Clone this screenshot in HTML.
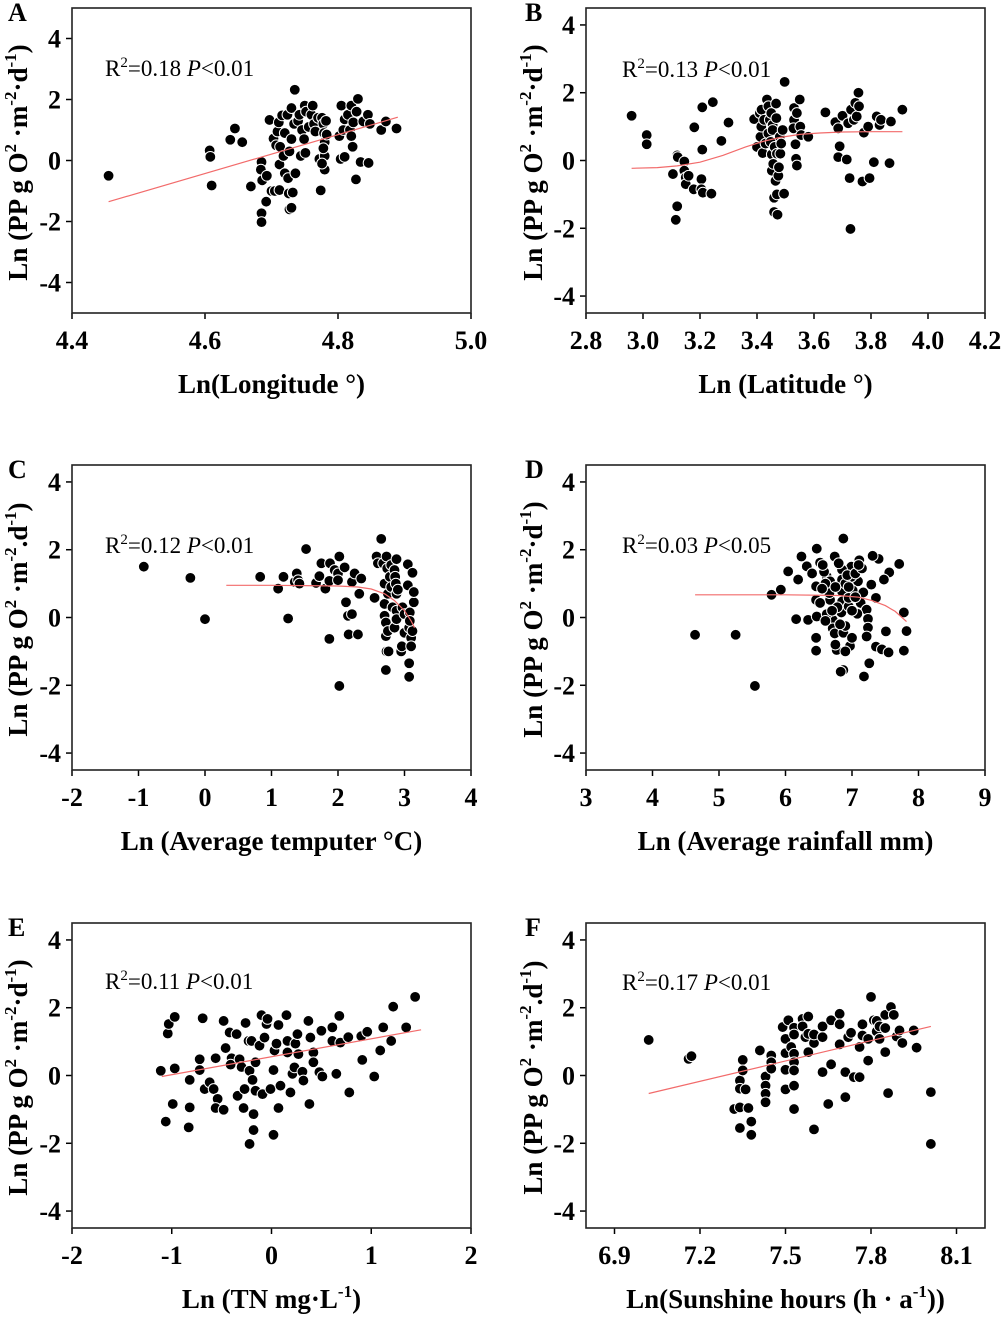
<!DOCTYPE html>
<html><head><meta charset="utf-8"><style>
body{margin:0;background:#fff}
svg{display:block;font-family:"Liberation Serif",serif}
.tk{font-weight:bold;font-size:26px}
.ttl{font-weight:bold;font-size:27px}
.ytl{font-weight:bold;font-size:27px}
.ann{font-size:23px}
</style></head><body>
<svg id="fig" width="1003" height="1318" viewBox="0 0 1003 1318" xmlns="http://www.w3.org/2000/svg"></svg>
<script>
const aX=[4.455,4.607,4.608,4.61,4.638,4.645,4.656,4.669,4.685,4.684,4.686,4.685,4.685,4.693,4.692,4.697,4.70,4.703,4.705,4.707,4.709,4.711,4.712,4.713,4.712,4.716,4.718,4.72,4.72,4.724,4.725,4.726,4.727,4.727,4.73,4.73,4.73,4.732,4.734,4.735,4.736,4.74,4.742,4.744,4.746,4.749,4.75,4.751,4.752,4.756,4.76,4.762,4.764,4.766,4.77,4.772,4.774,4.776,4.778,4.779,4.78,4.78,4.78,4.782,4.783,4.778,4.776,4.802,4.804,4.805,4.808,4.81,4.81,4.815,4.818,4.82,4.82,4.822,4.823,4.827,4.828,4.83,4.834,4.838,4.845,4.846,4.848,4.865,4.872,4.888];
const aY=[-0.5,0.33,0.12,-0.82,0.68,1.05,0.6,-0.85,-0.05,-0.3,-0.65,-1.73,-2.02,-0.5,-1.35,1.33,-1.0,0.72,-1.0,0.5,0.95,1.25,-0.13,0.45,-0.97,1.48,0.15,-0.42,0.9,1.5,-0.58,-1.08,0.3,-1.6,1.72,0.7,-1.55,-1.05,1.2,2.32,-0.42,1.3,1.5,0.15,1.0,0.7,1.8,0.25,1.6,1.1,1.5,1.8,1.2,0.95,1.4,0.05,-0.98,1.4,1.2,0.9,0.6,-0.3,0.15,1.3,0.85,0.4,-0.1,0.8,0.05,1.8,1.0,1.35,0.12,1.5,1.0,0.8,1.8,0.45,1.25,-0.62,1.6,2.02,-0.05,1.28,1.5,-0.08,1.2,1.0,1.28,1.05];
const aFitX=[4.455,4.89];
const aFitY=[-1.35,1.42];
const bX=[2.96,3.013,3.013,3.105,3.12,3.122,3.12,3.115,3.145,3.145,3.15,3.15,3.16,3.178,3.18,3.205,3.205,3.21,3.208,3.208,3.24,3.245,3.275,3.30,3.39,3.40,3.41,3.412,3.415,3.416,3.42,3.425,3.43,3.435,3.44,3.44,3.445,3.448,3.45,3.452,3.452,3.455,3.455,3.457,3.46,3.46,3.462,3.465,3.467,3.468,3.47,3.47,3.472,3.475,3.477,3.48,3.482,3.485,3.49,3.495,3.497,3.53,3.53,3.528,3.535,3.537,3.54,3.54,3.55,3.552,3.555,3.58,3.64,3.675,3.685,3.685,3.69,3.70,3.715,3.72,3.725,3.728,3.73,3.74,3.745,3.75,3.756,3.758,3.77,3.775,3.79,3.795,3.81,3.82,3.83,3.835,3.865,3.87,3.91];
const bY=[1.32,0.75,0.48,-0.4,0.15,0.1,-1.35,-1.75,-0.03,-0.3,-0.5,-0.7,-0.45,-0.85,0.98,-0.55,-0.85,-0.95,0.32,1.57,-0.98,1.72,0.58,1.12,1.22,0.4,1.4,0.7,1.0,1.5,0.22,1.2,0.5,1.8,1.6,0.8,1.2,0.55,1.4,0.18,-0.3,1.05,0.9,-0.1,-1.1,-1.52,0.4,-0.6,1.68,1.25,0.2,-1.0,-1.6,-0.45,-0.2,0.7,0.2,0.5,0.9,-0.98,2.32,1.55,1.2,0.95,0.48,0.05,-0.15,1.4,1.8,1.0,0.75,0.7,1.42,1.13,0.95,0.1,0.42,1.32,0.03,1.1,-0.52,-2.02,1.5,1.2,1.7,1.3,2.0,1.6,-0.62,0.82,1.0,-0.52,-0.05,1.3,1.05,1.2,-0.08,1.15,1.5];
const bFitX=[2.96,3.05,3.12,3.2,3.28,3.36,3.42,3.48,3.55,3.62,3.7,3.8,3.91];
const bFitY=[-0.23,-0.21,-0.16,-0.05,0.15,0.4,0.56,0.68,0.77,0.81,0.84,0.85,0.85];
const cX=[-0.92,-0.22,0,0.83,1.1,1.18,1.25,1.35,1.38,1.4,1.42,1.52,1.67,1.72,1.75,1.81,1.87,1.88,1.87,1.95,2.0,2.0,2.02,2.02,2.1,2.12,2.15,2.16,2.21,2.21,2.25,2.3,2.32,2.35,2.55,2.58,2.6,2.65,2.68,2.7,2.7,2.7,2.72,2.72,2.73,2.72,2.73,2.74,2.75,2.75,2.76,2.78,2.8,2.8,2.82,2.85,2.85,2.86,2.87,2.88,2.88,2.88,2.88,2.9,2.95,2.96,2.97,3.0,3.0,3.05,3.05,3.07,3.07,3.07,3.08,3.1,3.1,3.12,3.12,3.14,3.14,3.08];
const cY=[1.5,1.17,-0.05,1.2,0.85,1.2,-0.03,1.05,1.3,1.1,1.0,2.02,1.02,1.22,1.6,0.85,-0.63,1.6,1.08,1.4,1.3,1.1,1.8,-2.02,1.48,0.45,0.05,-0.5,0.1,1.05,1.3,-0.5,0.7,1.15,0.58,1.8,1.6,2.32,1.6,1.0,0.4,0.05,-0.15,-0.55,-1.0,-1.55,1.8,1.45,0.7,-0.4,-1.0,1.2,1.55,0.9,0.3,1.4,-0.3,1.2,1.0,1.72,0.7,0.2,-0.05,0.82,-1.0,-0.85,0.3,-0.45,0.1,1.57,0.95,-0.3,-1.35,-1.75,0.15,-0.6,-0.85,1.32,-0.4,0.45,0.75,-0.1];
const cFitX=[0.32,1,1.5,2,2.3,2.5,2.7,2.85,3.0,3.1,3.15];
const cFitY=[0.95,0.95,0.94,0.93,0.9,0.84,0.7,0.5,0.2,-0.1,-0.3];
const dX=[4.64,5.25,5.54,5.79,5.93,6.04,6.16,6.24,6.19,6.32,6.34,6.47,6.46,6.46,6.47,6.52,6.46,6.46,6.62,6.67,6.74,6.87,6.77,6.87,6.83,6.97,7.18,7.26,7.36,7.45,7.55,7.51,7.78,7.82,7.78,7.71,7.56,7.48,7.4,7.31,7.11,7.09,7.17,7.13,7.22,7.08,7.24,7.24,7.22,7.36,7.29,7.01,6.99,6.85,6.85,6.85,6.85,6.84,6.71,6.71,6.74,6.87,6.67,6.66,6.52,6.95,6.95,6.99,6.58,6.6,6.9,6.93,7.05,6.8,6.78,6.62,6.56,7.0,7.15,6.9,6.75,6.4,6.55,7.05,6.7,6.82,6.95,7.0,6.6,6.9,7.1,6.75];
const dY=[-0.51,-0.51,-2.02,0.67,0.82,1.36,-0.05,1.8,1.12,1.51,-0.07,0.03,-0.6,-0.98,2.03,1.62,0.92,0.52,1.21,1.07,1.8,2.33,-0.96,-1.55,-1.6,-0.84,-1.74,-1.35,-0.86,-0.94,-1.03,-0.41,-0.98,-0.4,0.15,1.58,1.33,1.12,1.73,1.82,1.69,1.07,0.74,0.43,0.23,0.11,-0.04,-0.3,-0.56,0.58,0.97,0.8,1.5,1.41,1.12,0.77,0.47,0.15,-0.07,-0.32,-0.47,-0.45,0.52,0.72,0.43,0.33,0.58,1.2,1.35,1.0,1.0,1.25,1.3,1.6,0.3,0.1,1.55,0.2,1.45,-0.25,0.9,1.3,0.85,0.6,0.2,-0.2,0.9,-0.6,-0.1,-1.0,1.55,-0.8];
const dFitX=[4.64,6,6.8,7.1,7.3,7.5,7.65,7.82];
const dFitY=[0.67,0.67,0.65,0.6,0.5,0.35,0.18,-0.12];
const eX=[-1.11,-1.06,-1.04,-1.03,-0.97,-0.97,-0.99,-0.83,-0.82,-0.82,-0.72,-0.72,-0.69,-0.67,-0.62,-0.58,-0.56,-0.54,-0.56,-0.48,-0.48,-0.46,-0.42,-0.4,-0.41,-0.35,-0.34,-0.32,-0.3,-0.26,-0.27,-0.28,-0.23,-0.2,-0.22,-0.19,-0.18,-0.18,-0.22,-0.16,-0.16,-0.12,-0.1,-0.09,-0.07,-0.05,-0.04,-0.01,0.02,0.02,0.03,0.05,0.07,0.07,0.09,0.15,0.16,0.16,0.19,0.21,0.23,0.24,0.26,0.27,0.31,0.32,0.37,0.38,0.39,0.42,0.42,0.48,0.5,0.51,0.61,0.61,0.65,0.68,0.69,0.77,0.78,0.9,0.91,0.96,1.03,1.09,1.12,1.2,1.22,1.35,1.44];
const eY=[0.14,-1.36,1.24,1.52,1.73,0.21,-0.84,-1.53,-0.94,-0.13,0.48,0.16,1.69,-0.4,-0.2,-0.4,0.51,-0.69,-0.96,-1.01,1.61,0.81,1.27,0.51,0.32,1.22,-0.6,0.48,0.25,1.55,-0.4,-0.96,1.02,1.02,0.14,-0.13,-1.14,-1.61,-2.02,-0.45,0.39,0.88,1.78,-0.55,1.12,1.52,1.67,-0.4,0.16,-1.75,0.74,0.94,-0.96,1.49,-0.3,1.78,1.02,0.68,-0.5,0.05,0.24,0.94,1.22,0.63,0.11,-0.15,1.61,-0.84,1.12,0.68,0.39,0.1,1.32,-0.03,1.42,1.02,0.05,1.76,0.97,1.13,-0.5,1.16,0.46,1.29,-0.03,0.74,1.42,1.02,2.03,1.42,2.32];
const eFitX=[-1.1,1.5];
const eFitY=[-0.03,1.35];
const fX=[7.02,7.16,7.17,7.32,7.34,7.34,7.34,7.34,7.35,7.35,7.36,7.37,7.38,7.38,7.41,7.43,7.43,7.43,7.43,7.45,7.45,7.45,7.49,7.5,7.5,7.5,7.5,7.51,7.52,7.53,7.53,7.53,7.53,7.53,7.53,7.53,7.56,7.56,7.57,7.58,7.58,7.58,7.6,7.6,7.6,7.63,7.63,7.63,7.65,7.66,7.66,7.69,7.69,7.69,7.71,7.71,7.72,7.73,7.74,7.76,7.76,7.77,7.77,7.79,7.79,7.8,7.81,7.82,7.82,7.83,7.83,7.85,7.85,7.85,7.86,7.87,7.88,7.89,7.9,7.91,7.95,7.96,8.01,8.01];
const fY=[1.05,0.49,0.57,-0.99,-0.15,-1.55,-0.39,-0.94,0.46,0.15,-0.41,-0.96,-1.36,-1.75,0.74,-0.03,-0.3,-0.54,-0.79,0.59,0.39,0.2,1.43,1.08,0.66,0.17,-0.41,1.63,0.84,0.64,0.39,0.15,-0.3,-0.99,1.41,1.21,1.67,1.45,1.13,1.23,1.74,0.69,0.96,-1.59,1.21,1.13,1.45,0.1,-0.84,0.33,1.63,1.82,1.51,0.92,0.1,-0.64,1.13,1.26,-0.05,0.84,-0.05,1.18,1.51,0.44,1.08,2.32,1.63,1.61,1.3,1.45,1.08,0.69,1.4,1.79,-0.52,2.02,1.79,1.15,1.33,0.96,1.33,0.82,-0.49,-2.02];
const fFitX=[7.02,8.01];
const fFitY=[-0.53,1.45];
const aTicks=[4.4,4.6,4.8,5.0], aTickLabels=["4.4","4.6","4.8","5.0"];
const bTicks=[2.8,3.0,3.2,3.4,3.6,3.8,4.0,4.2], bTickLabels=["2.8","3.0","3.2","3.4","3.6","3.8","4.0","4.2"];
const cTicks=[-2,-1,0,1,2,3,4], cTickLabels=["-2","-1","0","1","2","3","4"];
const dTicks=[3,4,5,6,7,8,9], dTickLabels=["3","4","5","6","7","8","9"];
const eTicks=[-2,-1,0,1,2], eTickLabels=["-2","-1","0","1","2"];
const fTicks=[6.9,7.2,7.5,7.8,8.1], fTickLabels=["6.9","7.2","7.5","7.8","8.1"];
const yTicks=[-4,-2,0,2,4], yTickLabels=["-4","-2","0","2","4"];

const NS="http://www.w3.org/2000/svg";
const svg=document.getElementById('fig');
function mk(tag,attrs,parent){const e=document.createElementNS(NS,tag);for(const k in attrs)e.setAttribute(k,attrs[k]);(parent||svg).appendChild(e);return e;}

function panel(o){
  const g=mk('g',{});
  
  
  const L=o.left,T=o.top,W=399,H=305;
  const sx=v=>L+(v-o.xmin)/(o.xmax-o.xmin)*W;
  const sy=v=>T+H-(v-o.ymin)/(o.ymax-o.ymin)*H;
  o.xt.forEach((v,i)=>{
    const x=sx(v);
    const t=mk('line',{x1:x,x2:x,y1:T+H,y2:T+H+6,stroke:'#000','stroke-width':1.5},g);
    
    
    const lb=mk('text',{x:x,y:T+H+36,'text-anchor':'middle',class:'tk'},g);
    lb.textContent=o.xl[i];
    
    
  });
  yTicks.forEach((v,i)=>{
    const y=sy(v);
    const t=mk('line',{x1:L-6,x2:L,y1:y,y2:y,stroke:'#000','stroke-width':1.5},g);
    
    
    const lb=mk('text',{x:L-11,y:y+9,'text-anchor':'end',class:'tk'},g);
    lb.textContent=yTickLabels[i];
    
    
  });
  o.X.forEach((v,i)=>{
    const c=mk('circle',{cx:sx(v),cy:sy(o.Y[i]),r:5.4,fill:'#000',stroke:'#fff','stroke-width':1},g);
    
    
  });
  const pts=o.FX.map((v,i)=>sx(v).toFixed(1)+','+sy(o.FY[i]).toFixed(1)).join(' ');
  const pl=mk('polyline',{points:pts,fill:'none',stroke:'#f26b6b','stroke-width':1.2},g);
  
  
  const r=mk('rect',{x:L,y:T,width:W,height:H,fill:'none',stroke:'#222','stroke-width':1.6},g);
  
  
  const lt=mk('text',{x:o.left<300?8:525,y:T+13,class:'tk','font-size':'25'},g);
  lt.textContent=o.id;
  
  
  const an=mk('text',{x:o.left<300?105:622,y:T+o.annDy,class:'ann'},g);
  an.innerHTML='R<tspan dy="-9" font-size="15">2</tspan><tspan dy="9">='+o.r2+' </tspan><tspan font-style="italic">P</tspan>'+o.p;
  
  
  const xt=mk('text',{x:L+W/2,y:T+H+80,'text-anchor':'middle',class:'ttl'},g);
  xt.innerHTML=o.xtitle;
  
  
  const yx=o.left<300?27:542, yc=T+H/2+2;
  const yt=mk('text',{x:yx,y:yc,'text-anchor':'middle',class:'ytl',transform:'rotate(-90 '+yx+' '+yc+')'},g);
  yt.innerHTML='Ln (PP g O<tspan dy="-11" font-size="17">2</tspan><tspan dy="11"> ·m</tspan><tspan dy="-11" font-size="17">-2</tspan><tspan dy="11">'+o.sep+'d</tspan><tspan dy="-11" font-size="17">-1</tspan><tspan dy="11">)</tspan>';
  
  
}
panel({id:'A',left:72,top:8,xmin:4.4,xmax:5.0,ymin:-5,ymax:5,xt:aTicks,xl:aTickLabels,X:aX,Y:aY,FX:aFitX,FY:aFitY,r2:'0.18',p:'&lt;0.01',annDy:68,sep:'·',xtitle:'Ln(Longitude °)'});
panel({id:'B',left:586,top:8,xmin:2.8,xmax:4.2,ymin:-4.5,ymax:4.5,xt:bTicks,xl:bTickLabels,X:bX,Y:bY,FX:bFitX,FY:bFitY,r2:'0.13',p:'&lt;0.01',annDy:69,sep:'·',xtitle:'Ln (Latitude °)'});
panel({id:'C',left:72,top:465,xmin:-2,xmax:4,ymin:-4.5,ymax:4.5,xt:cTicks,xl:cTickLabels,X:cX,Y:cY,FX:cFitX,FY:cFitY,r2:'0.12',p:'&lt;0.01',annDy:88,sep:'.',xtitle:'Ln (Average temputer °C)'});
panel({id:'D',left:586,top:465,xmin:3,xmax:9,ymin:-4.5,ymax:4.5,xt:dTicks,xl:dTickLabels,X:dX,Y:dY,FX:dFitX,FY:dFitY,r2:'0.03',p:'&lt;0.05',annDy:88,sep:'·',xtitle:'Ln (Average rainfall mm)'});
panel({id:'E',left:72,top:923,xmin:-2,xmax:2,ymin:-4.5,ymax:4.5,xt:eTicks,xl:eTickLabels,X:eX,Y:eY,FX:eFitX,FY:eFitY,r2:'0.11',p:'&lt;0.01',annDy:66,sep:'·',xtitle:'Ln (TN mg·L<tspan dy="-11" font-size="17">-1</tspan><tspan dy="11">)</tspan>'});
panel({id:'F',left:586,top:923,xmin:6.8,xmax:8.2,ymin:-4.5,ymax:4.5,xt:fTicks,xl:fTickLabels,X:fX,Y:fY,FX:fFitX,FY:fFitY,r2:'0.17',p:'&lt;0.01',annDy:67,sep:'.',xtitle:'Ln(Sunshine hours (h · a<tspan dy="-11" font-size="17">-1</tspan><tspan dy="11">))</tspan>'});
</script>
</body></html>
